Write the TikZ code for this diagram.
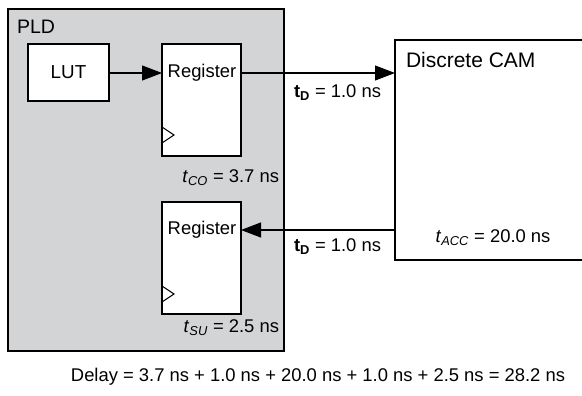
\documentclass[tikz,border=0pt]{standalone}
\usepackage{fontspec}
\setmainfont{Liberation Sans}
\usetikzlibrary{arrows.meta,calc}
\definecolor{pldgray}{RGB}{211,212,214}
\begin{document}
\begin{tikzpicture}[x=1pt,y=-1pt,
  every node/.style={font=\fontsize{18.4}{22}\selectfont, inner sep=0pt, outer sep=0pt},
  blk/.style={draw, line width=1.3pt, fill=white, anchor=north west},
  arr/.style={line width=1.1pt, -{Triangle[length=20pt,width=15pt]}},
  clk/.style={line width=1pt},
  lbl/.style={anchor=center}]
\useasboundingbox (0,0) rectangle (582,396);
% PLD box
\node[draw, line width=1.3pt, fill=pldgray, anchor=north west, minimum width=276pt, minimum height=342pt] (pld) at (8,9) {};
\node[anchor=west, font=\fontsize{19.5}{23}\selectfont] (pldt) at (17,26.5) {PLD};
% LUT
\node[blk, minimum width=81pt, minimum height=57pt] (lut) at (28,44) {};
\node[font=\fontsize{18.8}{22}\selectfont] (lutt) at (lut.center) {LUT};
% registers
\node[blk, minimum width=79pt, minimum height=112pt] (reg1) at (162,44) {};
\node (r1t) at (202,73) {Register};
\draw[clk] (reg1.south west) ++(0,-29) -- ++(12,8) -- ++(-12,8);
\node[anchor=east] (tco) at (279,178) {\textit{t}\textsubscript{\textit{CO}} = 3.7 ns};
\node[blk, minimum width=79pt, minimum height=112pt] (reg2) at (162,202) {};
\node (r2t) at (202,230) {Register};
\draw[clk] (reg2.south west) ++(0,-28) -- ++(12,8) -- ++(-12,8);
\node[anchor=east] (tsu) at (279,328) {\textit{t}\textsubscript{\textit{SU}} = 2.5 ns};
% CAM
\node[anchor=north west, minimum width=187pt, minimum height=220pt] (cam) at (395,40) {};
\draw[line width=1.3pt] (cam.north east) -- (cam.north west) -- (cam.south west) -- (cam.south east);
\node[anchor=west, font=\fontsize{21}{25}\selectfont] (camt) at (406,60) {Discrete CAM};
\node (tacc) at (493,238) {\textit{t}\textsubscript{\textit{ACC}} = 20.0 ns};
% connectors
\draw[arr] (lut.east |- r1t) -- (reg1.west |- r1t);
\draw[arr] (reg1.east |- r1t) -- (cam.west |- r1t);
\draw[arr] (cam.west |- r2t) -- (reg2.east |- r2t);
\node[anchor=west] (td1) at (294,93) {\textbf{t}\textsubscript{\textbf{D}} = 1.0 ns};
\node[anchor=west] (td2) at (294,247) {\textbf{t}\textsubscript{\textbf{D}} = 1.0 ns};
% delay equation
\node (delay) at (318,377) {Delay = 3.7 ns + 1.0 ns + 20.0 ns + 1.0 ns + 2.5 ns = 28.2 ns};
\end{tikzpicture}
\end{document}
